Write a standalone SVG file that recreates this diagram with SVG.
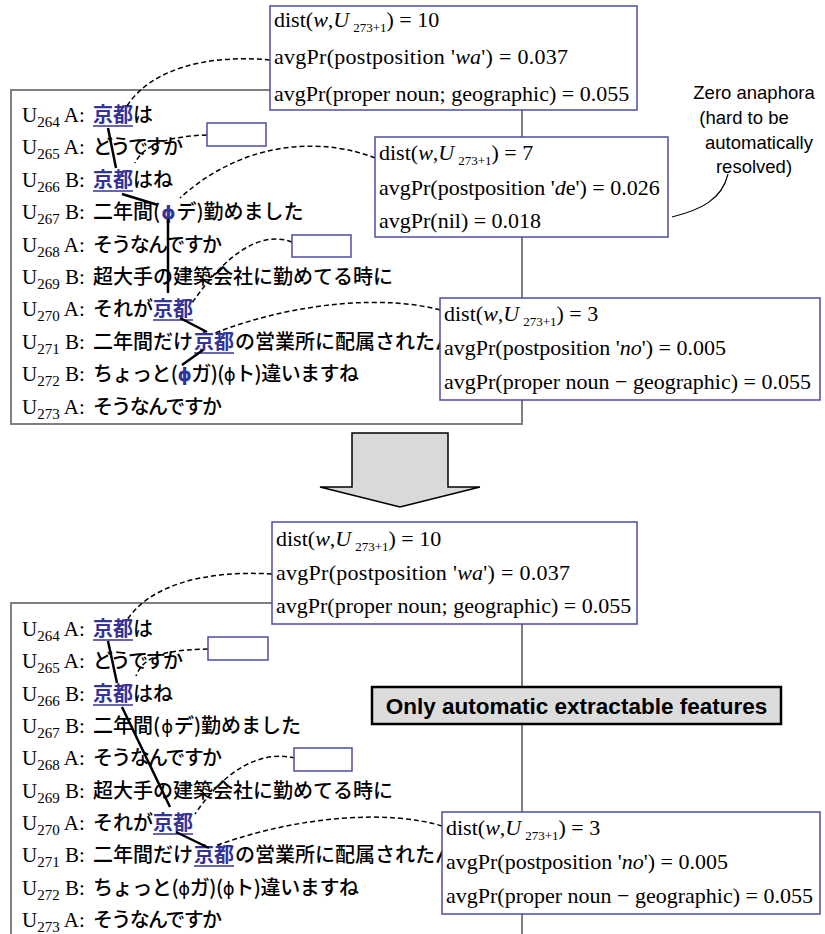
<svg xmlns="http://www.w3.org/2000/svg" width="825" height="934" viewBox="0 0 825 934">
<style>
  .frame{fill:#fff;stroke:#7f7f7f;stroke-width:2}
  .fbox{fill:#fff;stroke:#4c4ca4;stroke-width:1.5}
  .math{font-family:"Liberation Serif","Times New Roman",serif;font-size:22px;fill:#000}
  .lbl{font-family:"Liberation Serif","Times New Roman",serif;font-size:21px;fill:#000}
  .it{font-style:italic}
  .sub{font-size:13px}
  .usub{font-size:15px}
  .jp{font-family:"Noto Sans CJK JP",sans-serif;font-size:20px;font-weight:500;fill:#000}
  .kw{fill:#333399;font-weight:bold}
  .phi{font-family:"DejaVu Sans",sans-serif;font-size:18px}
  .uline{stroke:#333399;stroke-width:1.5}
  .chain{stroke:#000;stroke-width:2.5;fill:none}
  .ref{stroke:#000;stroke-width:1.5;stroke-dasharray:5 3;fill:none}
  .note{font-family:"Liberation Sans",Arial,sans-serif;font-size:18.5px;fill:#000}
</style>

<!-- ===== upper dialogue ===== -->
<rect id="frame-top" class="frame" x="11" y="90" width="511" height="334"/>
<g id="utt-top" class="lbl">
  <text x="22" y="122">U<tspan class="usub" dy="5">264</tspan><tspan dy="-5"> A:</tspan></text>
  <text x="22" y="154">U<tspan class="usub" dy="5">265</tspan><tspan dy="-5"> A:</tspan></text>
  <text x="22" y="187">U<tspan class="usub" dy="5">266</tspan><tspan dy="-5"> B:</tspan></text>
  <text x="22" y="219">U<tspan class="usub" dy="5">267</tspan><tspan dy="-5"> B:</tspan></text>
  <text x="22" y="252">U<tspan class="usub" dy="5">268</tspan><tspan dy="-5"> A:</tspan></text>
  <text x="22" y="284">U<tspan class="usub" dy="5">269</tspan><tspan dy="-5"> B:</tspan></text>
  <text x="22" y="316">U<tspan class="usub" dy="5">270</tspan><tspan dy="-5"> A:</tspan></text>
  <text x="22" y="349">U<tspan class="usub" dy="5">271</tspan><tspan dy="-5"> B:</tspan></text>
  <text x="22" y="381">U<tspan class="usub" dy="5">272</tspan><tspan dy="-5"> B:</tspan></text>
  <text x="22" y="414">U<tspan class="usub" dy="5">273</tspan><tspan dy="-5"> A:</tspan></text>
</g>
<g id="jp-top" class="jp">
  <text x="93" y="122"><tspan class="kw">京都</tspan>は</text>
  <text x="93" y="154" textLength="90" lengthAdjust="spacing">どうですか</text>
  <text x="93" y="187"><tspan class="kw">京都</tspan>はね</text>
  <text x="93" y="219">二年間(<tspan class="kw phi" dx="1">ϕ</tspan><tspan dx="1">デ)勤めました</tspan></text>
  <text x="93" y="252" textLength="129" lengthAdjust="spacing">そうなんですか</text>
  <text x="93" y="284" textLength="300" lengthAdjust="spacing">超大手の建築会社に勤めてる時に</text>
  <text y="316"><tspan x="93">それが</tspan><tspan x="153" class="kw">京都</tspan></text>
  <text y="349"><tspan x="93">二年間だけ</tspan><tspan x="194" class="kw">京都</tspan><tspan x="235">の営業所に配属されたん</tspan></text>
  <text x="93" y="381" textLength="266" lengthAdjust="spacing">ちょっと(<tspan class="kw phi">ϕ</tspan>ガ)(<tspan class="phi">ϕ</tspan>ト)違いますね</text>
  <text x="93" y="414" textLength="129" lengthAdjust="spacing">そうなんですか</text>
  <line class="uline" x1="93" y1="126" x2="133" y2="126"/>
  <line class="uline" x1="93" y1="191" x2="133" y2="191"/>
  <line class="uline" x1="153" y1="320" x2="193" y2="320"/>
  <line class="uline" x1="194" y1="353" x2="234" y2="353"/>
</g>

<!-- ===== lower dialogue ===== -->
<rect id="frame-bottom" class="frame" x="11" y="603" width="511" height="345"/>
<g id="utt-bottom" class="lbl">
  <text x="22" y="636">U<tspan class="usub" dy="5">264</tspan><tspan dy="-5"> A:</tspan></text>
  <text x="22" y="668">U<tspan class="usub" dy="5">265</tspan><tspan dy="-5"> A:</tspan></text>
  <text x="22" y="701">U<tspan class="usub" dy="5">266</tspan><tspan dy="-5"> B:</tspan></text>
  <text x="22" y="733">U<tspan class="usub" dy="5">267</tspan><tspan dy="-5"> B:</tspan></text>
  <text x="22" y="765">U<tspan class="usub" dy="5">268</tspan><tspan dy="-5"> A:</tspan></text>
  <text x="22" y="798">U<tspan class="usub" dy="5">269</tspan><tspan dy="-5"> B:</tspan></text>
  <text x="22" y="830">U<tspan class="usub" dy="5">270</tspan><tspan dy="-5"> A:</tspan></text>
  <text x="22" y="862">U<tspan class="usub" dy="5">271</tspan><tspan dy="-5"> B:</tspan></text>
  <text x="22" y="895">U<tspan class="usub" dy="5">272</tspan><tspan dy="-5"> B:</tspan></text>
  <text x="22" y="927">U<tspan class="usub" dy="5">273</tspan><tspan dy="-5"> A:</tspan></text>
</g>
<g id="jp-bottom" class="jp">
  <text x="93" y="636"><tspan class="kw">京都</tspan>は</text>
  <text x="93" y="668" textLength="90" lengthAdjust="spacing">どうですか</text>
  <text x="93" y="701"><tspan class="kw">京都</tspan>はね</text>
  <text x="93" y="733">二年間(<tspan class="phi" dx="1">ϕ</tspan><tspan dx="1">デ)勤めました</tspan></text>
  <text x="93" y="765" textLength="129" lengthAdjust="spacing">そうなんですか</text>
  <text x="93" y="798" textLength="300" lengthAdjust="spacing">超大手の建築会社に勤めてる時に</text>
  <text y="830"><tspan x="93">それが</tspan><tspan x="153" class="kw">京都</tspan></text>
  <text y="862"><tspan x="93">二年間だけ</tspan><tspan x="194" class="kw">京都</tspan><tspan x="235">の営業所に配属されたん</tspan></text>
  <text x="93" y="895" textLength="266" lengthAdjust="spacing">ちょっと(<tspan class="phi">ϕ</tspan>ガ)(<tspan class="phi">ϕ</tspan>ト)違いますね</text>
  <text x="93" y="927" textLength="129" lengthAdjust="spacing">そうなんですか</text>
  <line class="uline" x1="93" y1="640" x2="133" y2="640"/>
  <line class="uline" x1="93" y1="705" x2="133" y2="705"/>
  <line class="uline" x1="153" y1="834" x2="193" y2="834"/>
  <line class="uline" x1="194" y1="866" x2="234" y2="866"/>
</g>

<!-- ===== connectors ===== -->
<g id="connectors">
  <!-- coreference chain, upper -->
  <path class="chain" d="M108,128 L116,168 M122,194 L158,205 M168,219 L168,293 M180,318 L207,332 M203,350 L182,365"/>
  <!-- coreference chain, lower -->
  <path class="chain" d="M108,641 L117,683 M122,707 L170,807 M176,832 L209,848"/>
  <!-- feature links, upper -->
  <path class="ref" d="M270,60 C 205,54 150,70 127,106"/>
  <path class="ref" d="M207,135 C 175,136 145,142 135,163"/>
  <path class="ref" d="M375,158 C 330,140 250,135 180,198"/>
  <path class="ref" d="M292,242 C 260,230 225,255 192,303"/>
  <path class="ref" d="M440,310 C 390,296 300,300 215,333"/>
  <!-- feature links, lower -->
  <path class="ref" d="M272,574 C 205,570 150,585 127,620"/>
  <path class="ref" d="M208,649 C 175,650 145,652 136,676"/>
  <path class="ref" d="M295,758 C 260,750 225,770 195,814"/>
  <path class="ref" d="M442,826 C 390,810 300,815 215,846"/>
  <!-- note pointer -->
  <path d="M728,174 C 722,200 700,210 672,217" fill="none" stroke="#000" stroke-width="1.2"/>
</g>

<!-- ===== feature boxes, upper ===== -->
<g id="box-kyoto-264">
  <rect class="fbox" x="270" y="6" width="367" height="104"/>
  <text class="math" x="274" y="27">dist(<tspan class="it">w</tspan>,<tspan class="it">U</tspan><tspan class="sub" dx="4" dy="5">273+1</tspan><tspan dy="-5">) = 10</tspan></text>
  <text class="math" x="274" y="64" textLength="294" lengthAdjust="spacing">avgPr(postposition '<tspan class="it">wa</tspan>') = 0.037</text>
  <text class="math" x="274" y="101">avgPr(proper noun; geographic) = 0.055</text>
</g>
<g id="box-zero-267">
  <rect class="fbox" x="375" y="137" width="293" height="100"/>
  <text class="math" x="379" y="160">dist(<tspan class="it">w</tspan>,<tspan class="it">U</tspan><tspan class="sub" dx="4" dy="5">273+1</tspan><tspan dy="-5">) = 7</tspan></text>
  <text class="math" x="379" y="195">avgPr(postposition '<tspan class="it">d</tspan>e') = 0.026</text>
  <text class="math" x="379" y="228">avgPr(nil) = 0.018</text>
</g>
<g id="box-kyoto-271">
  <rect class="fbox" x="440" y="298" width="380" height="102"/>
  <text class="math" x="444" y="321">dist(<tspan class="it">w</tspan>,<tspan class="it">U</tspan><tspan class="sub" dx="4" dy="5">273+1</tspan><tspan dy="-5">) = 3</tspan></text>
  <text class="math" x="444" y="355">avgPr(postposition '<tspan class="it">no</tspan>') = 0.005</text>
  <text class="math" x="444" y="389">avgPr(proper noun − geographic) = 0.055</text>
</g>
<rect id="slot-265" class="fbox" x="207" y="123" width="59" height="23"/>
<rect id="slot-268" class="fbox" x="292" y="235" width="59" height="22"/>

<g id="note-zero">
  <text class="note" text-anchor="middle" x="754" y="99">Zero anaphora</text>
  <text class="note" text-anchor="middle" x="744" y="124">(hard to be</text>
  <text class="note" text-anchor="middle" x="759" y="149">automatically</text>
  <text class="note" text-anchor="middle" x="754" y="173">resolved)</text>
</g>

<!-- ===== transition arrow ===== -->
<polygon id="arrow-down" points="352,433 448,433 448,487 480,487 400,507 320,487 352,487" fill="#d9d9d9" stroke="#000" stroke-width="1.5"/>

<!-- ===== feature boxes, lower ===== -->
<g id="box-kyoto-264b">
  <rect class="fbox" x="272" y="522" width="365" height="102"/>
  <text class="math" x="276" y="546">dist(<tspan class="it">w</tspan>,<tspan class="it">U</tspan><tspan class="sub" dx="4" dy="5">273+1</tspan><tspan dy="-5">) = 10</tspan></text>
  <text class="math" x="276" y="580" textLength="294" lengthAdjust="spacing">avgPr(postposition '<tspan class="it">wa</tspan>') = 0.037</text>
  <text class="math" x="276" y="613">avgPr(proper noun; geographic) = 0.055</text>
</g>
<g id="box-kyoto-271b">
  <rect class="fbox" x="442" y="812" width="378" height="102"/>
  <text class="math" x="446" y="835">dist(<tspan class="it">w</tspan>,<tspan class="it">U</tspan><tspan class="sub" dx="4" dy="5">273+1</tspan><tspan dy="-5">) = 3</tspan></text>
  <text class="math" x="446" y="869">avgPr(postposition '<tspan class="it">no</tspan>') = 0.005</text>
  <text class="math" x="446" y="903">avgPr(proper noun − geographic) = 0.055</text>
</g>
<rect id="slot-265b" class="fbox" x="208" y="637" width="60" height="23"/>
<rect id="slot-268b" class="fbox" x="294" y="748" width="58" height="23"/>

<g id="label-auto">
  <rect x="372" y="687" width="409" height="37" fill="#dcdcdc" stroke="#000" stroke-width="2.5"/>
  <text x="576.5" y="714" text-anchor="middle" font-family="'Liberation Sans',Arial,sans-serif" font-size="22.5" font-weight="bold">Only automatic extractable features</text>
</g>
</svg>
